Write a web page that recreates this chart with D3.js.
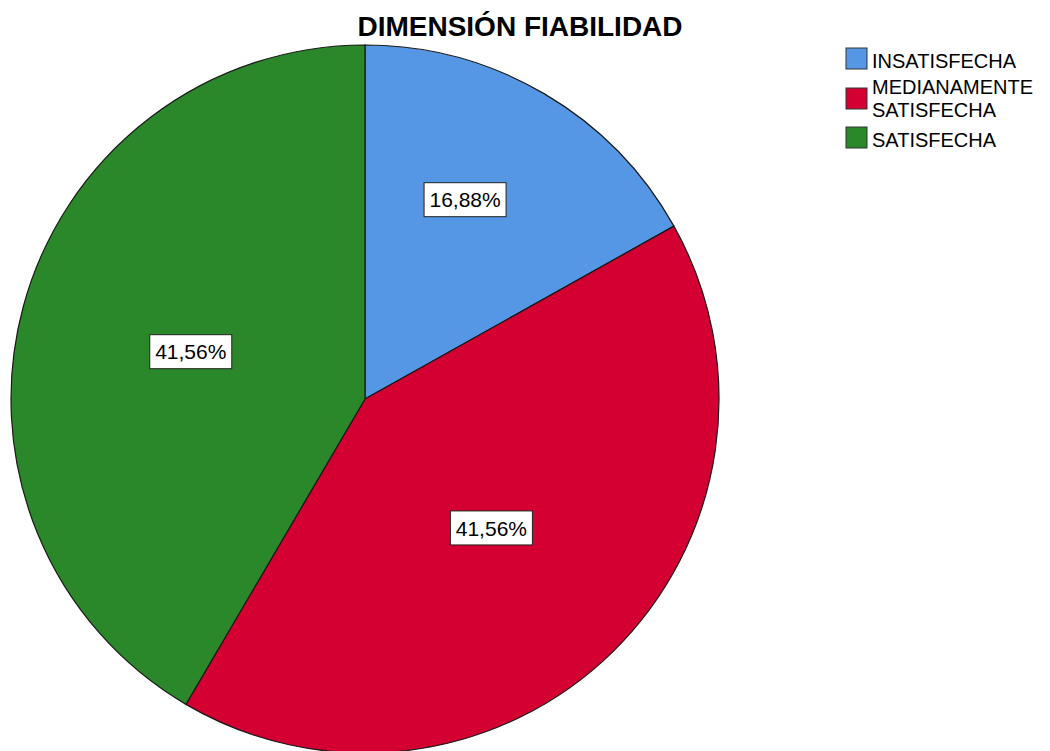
<!DOCTYPE html>
<html>
  <head>
    <meta charset="utf-8" />
    <title>Dimensión fiabilidad</title>
    <style>
      body {
        margin: 0;
        background: #fff;
      }
      svg {
        display: block;
        font-family: "Liberation Sans", Arial, sans-serif;
      }
    </style>
    <script src="https://d3js.org/d3.v7.min.js" charset="utf-8"></script>
  </head>
  <body>
    <script>
      const categories = ["INSATISFECHA", "MEDIANAMENTE SATISFECHA", "SATISFECHA"];
      const legendLines = [["INSATISFECHA"], ["MEDIANAMENTE", "SATISFECHA"], ["SATISFECHA"]];
      const values = [16.88, 41.56, 41.56];
      const colors = ["#5596e5", "#d40032", "#2a882a"];

      const width = 1050,
        height = 751;
      const cx = 365,
        cy = 399,
        radius = 354;

      const svg = d3
        .select("body")
        .append("svg")
        .attr("width", width)
        .attr("height", height);

      svg
        .append("text")
        .attr("x", 520)
        .attr("y", 36)
        .attr("text-anchor", "middle")
        .style("font-size", "28px")
        .style("font-weight", "bold")
        .text("DIMENSIÓN FIABILIDAD");

      const pie = d3
        .pie()
        .sort(null)
        .value(function (d) {
          return d;
        });

      const arc = d3.arc().innerRadius(0).outerRadius(radius);

      const g = svg
        .append("g")
        .attr("transform", "translate(" + cx + "," + cy + ")");

      const arcs = pie(values);

      g.selectAll("path")
        .data(arcs)
        .join("path")
        .attr("d", arc)
        .attr("fill", function (d, i) {
          return colors[i];
        })
        .attr("stroke", "#1a1a1a")
        .attr("stroke-width", 1.2);

      // small slices get their label pushed further out
      function labelPos(d) {
        const small = d.endAngle - d.startAngle < 1.5;
        const r = small ? radius * 0.63 : radius * 0.51;
        const a = small ? (d.startAngle + d.endAngle) / 2 - 0.065 : (d.startAngle + d.endAngle) / 2;
        return [r * Math.sin(a), -r * Math.cos(a)];
      }

      const labels = g
        .selectAll(".label")
        .data(arcs)
        .join("g")
        .attr("class", "label")
        .attr("transform", function (d) {
          return "translate(" + labelPos(d) + ")";
        });

      labels
        .append("rect")
        .attr("x", -41)
        .attr("y", -17)
        .attr("width", 82)
        .attr("height", 34)
        .attr("fill", "#fff")
        .attr("stroke", "#222")
        .attr("stroke-width", 1);

      labels
        .append("text")
        .attr("text-anchor", "middle")
        .attr("dy", "0.36em")
        .style("font-size", "21px")
        .text(function (d) {
          return d.data.toFixed(2).replace(".", ",") + "%";
        });

      const legend = svg
        .selectAll(".legend")
        .data(categories)
        .join("g")
        .attr("class", "legend")
        .attr("transform", function (d, i) {
          return "translate(846," + [48, 88, 127][i] + ")";
        });

      legend
        .append("rect")
        .attr("width", 21)
        .attr("height", 21)
        .attr("fill", function (d, i) {
          return colors[i];
        })
        .attr("stroke", "#333")
        .attr("stroke-width", 1);

      legend
        .append("text")
        .attr("x", 26)
        .style("font-size", "20px")
        .selectAll("tspan")
        .data(function (d, i) {
          return legendLines[i];
        })
        .join("tspan")
        .attr("x", 26)
        .attr("y", function (d, j, nodes) {
          const n = nodes.length;
          return n === 1 ? 20 : j === 0 ? 6 : 29;
        })
        .text(function (d) {
          return d;
        });
    </script>
  </body>
</html>
